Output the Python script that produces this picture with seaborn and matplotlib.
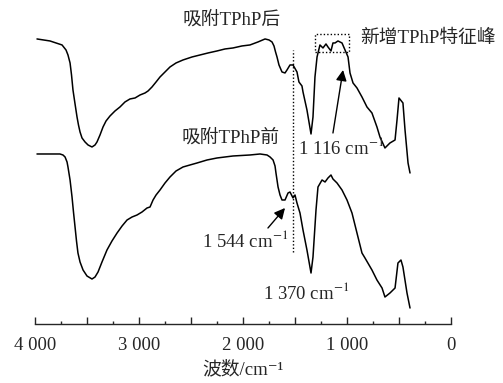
import pandas as pd
import matplotlib
matplotlib.use("Agg")
import matplotlib.pyplot as plt
import seaborn as sns

# wavenumber (cm-1) and transmittance (a.u.)
wn_after = [3981, 3856, 3740, 3702, 3683, 3663, 3649, 3635, 3615, 3596, 3582, 3567,
            3548, 3519, 3490, 3452, 3423, 3404, 3375, 3346, 3317, 3279, 3231, 3183,
            3135, 3087, 3038, 2990, 2942, 2913, 2875, 2836, 2798, 2750, 2702, 2644,
            2577, 2490, 2413, 2336, 2250, 2173, 2096, 2010, 1933, 1856, 1788, 1750,
            1721, 1702, 1687, 1673, 1654, 1625, 1596, 1577, 1548, 1519, 1481, 1462,
            1433, 1423, 1385, 1346, 1327, 1308, 1288, 1260, 1231, 1202, 1183, 1154,
            1135, 1115, 1087, 1048, 1019, 990, 971, 942, 904, 856, 808, 760, 712,
            683, 635, 587, 538, 519, 500, 462, 442, 413, 394]
t_after = [285, 283, 279, 274, 269, 261, 249, 234, 220, 207, 199, 192,
           186, 182, 179, 177, 179, 182, 189, 197, 203, 208, 213, 217,
           222, 225, 226, 229, 231, 233, 237, 242, 247, 252, 257, 261,
           264, 267, 269, 271, 273, 275, 276, 278, 279, 282, 285, 284,
           282, 278, 272, 267, 259, 252, 251, 254, 259, 259, 252, 242,
           238, 232, 214, 190, 207, 247, 267, 279, 276, 280, 277, 273,
           281, 281, 283, 281, 274, 267, 251, 241, 236, 227, 217, 211, 197,
           187, 176, 181, 184, 204, 226, 221, 194, 161, 151]

wn_before = [3981, 3760, 3731, 3711, 3692, 3683, 3663, 3644, 3630, 3615, 3601, 3587,
             3567, 3538, 3500, 3452, 3423, 3394, 3356, 3308, 3260, 3211, 3163, 3115,
             3067, 3019, 2971, 2923, 2894, 2865, 2836, 2798, 2750, 2702, 2644, 2577,
             2510, 2442, 2346, 2250, 2173, 2096, 1933, 1836, 1769, 1740, 1711, 1692,
             1683, 1673, 1663, 1644, 1625, 1596, 1567, 1548, 1519, 1500, 1481, 1452,
             1423, 1385, 1346, 1327, 1298, 1279, 1240, 1211, 1183, 1154, 1135, 1096,
             1048, 1000, 952, 904, 856, 827, 760, 712, 663, 635, 587, 538, 510, 481,
             462, 423, 394]
t_before = [170, 170, 169, 167, 162, 157, 144, 127, 112, 97, 83, 71,
            62, 54, 48, 45, 47, 52, 62, 74, 83, 91, 98, 104,
            107, 109, 112, 116, 117, 124, 129, 134, 141, 147, 153, 157,
            159, 161, 164, 166, 167, 168, 169, 170, 169, 167, 164, 158,
            151, 144, 137, 129, 124, 124, 131, 132, 126, 129, 121, 111,
            94, 74, 51, 67, 114, 137, 144, 142, 146, 149, 145, 141,
            134, 124, 111, 91, 71, 66, 54, 44, 36, 27, 31, 36, 61, 64,
            57, 31, 16]

tick_pos = [4000, 3500, 3000, 2500, 2000, 1500, 1000, 500, 0]
tick_labels = ["4 000", "", "3 000", "", "2 000", "", "1 000", "", "0"]

sns.set_style("ticks")
plt.rcParams["font.family"] = ["Liberation Serif", "Noto Sans CJK SC", "DejaVu Serif"]
plt.rcParams["mathtext.fontset"] = "stix"
plt.rcParams["font.size"] = 13.5

df = pd.concat([
    pd.DataFrame({"wn": wn_after, "t": t_after, "sample": "after"}),
    pd.DataFrame({"wn": wn_before, "t": t_before, "sample": "before"}),
])

fig = plt.figure(figsize=(5.03, 3.83), dpi=100)
ax = fig.add_axes([0.0696, 0.154, 0.827, 0.82])
sns.lineplot(data=df, x="wn", y="t", units="sample", estimator=None, sort=False,
             color="black", lw=1.1, ax=ax, legend=False)

ax.set_xlim(4000, 0)
ax.set_ylim(0, 314)
ax.set_xticks(tick_pos)
ax.set_xticklabels(tick_labels)
ax.set_xticks(range(250, 4000, 500), minor=True)
ax.tick_params(axis="x", which="major", direction="in", length=5, width=1, pad=9)
ax.tick_params(axis="x", which="minor", direction="in", length=2.5, width=1)
ax.set_yticks([])
ax.set_xlabel("波数/cm⁻¹", labelpad=5)
ax.set_ylabel("")
sns.despine(ax=ax, left=True, top=True, right=True)
ax.spines["bottom"].set_linewidth(1)

dot = (0, (1, 1.5))
ax.plot([1519, 1519], [72, 274], color="black", lw=1, ls=dot)
ax.plot([1308, 981, 981, 1308, 1308], [272, 272, 290, 290, 272], color="black", lw=1, ls=dot)

ax.text(2106, 304, "吸附TPhP后", ha="center", va="center", clip_on=False)
ax.text(2115, 186, "吸附TPhP前", ha="center", va="center")
ax.text(221, 286, "新增TPhP特征峰", ha="center", va="center", clip_on=False)
ax.text(1394, 32, "1 370 cm$^{-1}$", ha="center", va="center")

arrow = dict(arrowstyle="-|>", color="black", lw=1, mutation_scale=16, shrinkA=0, shrinkB=0)
ax.annotate("", xy=(1038, 254), xytext=(1135, 191), arrowprops=arrow)
ax.text(1058, 176, "1 116 cm$^{-1}$", ha="center", va="center")
ax.annotate("", xy=(1596, 116), xytext=(1760, 96), arrowprops=arrow)
ax.text(1981, 84, "1 544 cm$^{-1}$", ha="center", va="center")

fig.savefig("out.png", dpi=100)
